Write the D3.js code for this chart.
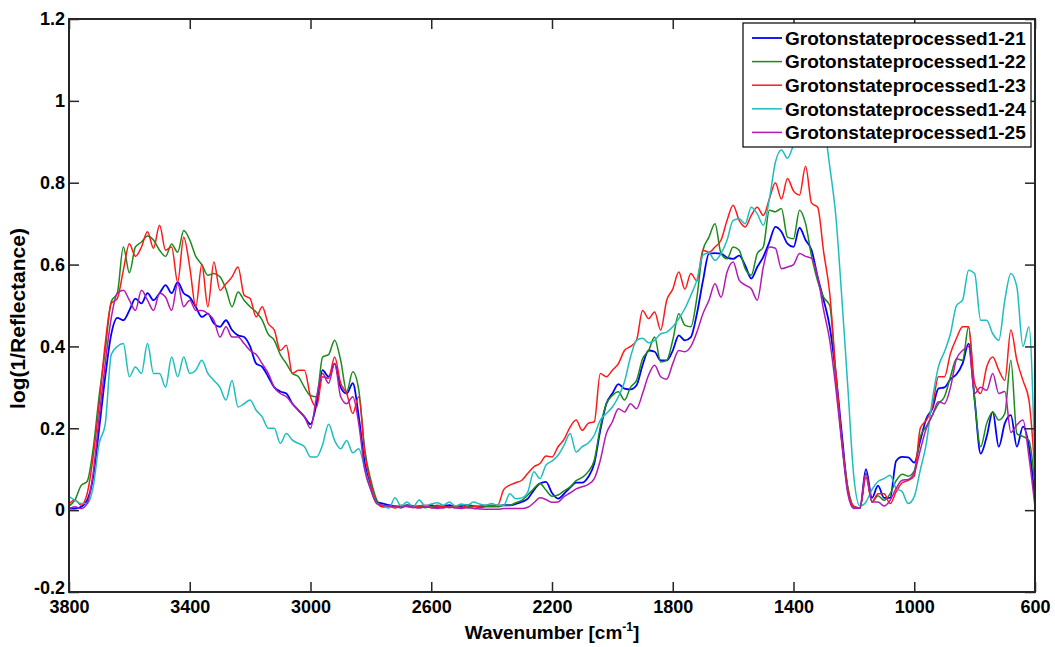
<!DOCTYPE html>
<html>
<head>
<meta charset="utf-8">
<script src="https://cdn.jsdelivr.net/npm/d3@7.9.0/dist/d3.min.js"></script>
<style>
  body { margin: 0; background: #fff; }
  svg text { font-family: "Liberation Sans", Arial, sans-serif; font-weight: bold; fill: #000; }
</style>
</head>
<body>
<svg id="chart" width="1055" height="647"></svg>
<script>
// wavenumber grid (cm-1), shared by all spectra
const wavenumbers = [
  3800,3780,3760,3740,3720,3700,3680,3660,3640,3620,
  3600,3580,3560,3540,3520,3500,3480,3460,3440,3420,
  3400,3380,3360,3340,3320,3300,3280,3260,3240,3220,
  3200,3180,3160,3140,3120,3100,3080,3060,3040,3020,
  3000,2980,2960,2940,2920,2900,2880,2860,2840,2820,
  2800,2780,2760,2740,2720,2700,2680,2660,2640,2620,
  2600,2580,2560,2540,2520,2500,2480,2460,2440,2420,
  2400,2380,2360,2340,2320,2300,2280,2260,2240,2220,
  2200,2180,2160,2140,2120,2100,2080,2060,2040,2020,
  2000,1980,1960,1940,1920,1900,1880,1860,1840,1820,
  1800,1780,1760,1740,1720,1700,1680,1660,1640,1620,
  1600,1580,1560,1540,1520,1500,1480,1460,1440,1420,
  1400,1380,1360,1340,1320,1300,1280,1260,1240,1220,
  1200,1180,1160,1140,1120,1100,1080,1060,1040,1020,
  1000,980,960,940,920,900,880,860,840,820,
  800,780,760,740,720,700,680,660,640,620,
  600
];

const s21 = [
  0.004,0.004,0.008,0.024,0.08,0.2,0.326,0.43,0.47,0.464,
  0.488,0.517,0.505,0.53,0.513,0.53,0.55,0.53,0.557,0.53,
  0.52,0.497,0.472,0.48,0.456,0.448,0.464,0.44,0.427,0.423,
  0.40,0.358,0.35,0.326,0.30,0.29,0.285,0.26,0.244,0.228,
  0.21,0.26,0.342,0.326,0.358,0.30,0.285,0.31,0.228,0.114,
  0.057,0.02,0.016,0.012,0.01,0.008,0.012,0.01,0.008,0.01,
  0.012,0.008,0.01,0.012,0.008,0.01,0.012,0.01,0.008,0.01,
  0.01,0.01,0.012,0.012,0.015,0.02,0.028,0.049,0.065,0.069,
  0.042,0.028,0.04,0.055,0.067,0.067,0.081,0.114,0.195,0.26,
  0.285,0.308,0.297,0.295,0.305,0.354,0.39,0.387,0.366,0.366,
  0.39,0.427,0.415,0.423,0.48,0.56,0.627,0.628,0.627,0.617,
  0.614,0.622,0.598,0.566,0.594,0.619,0.655,0.692,0.68,0.651,
  0.643,0.69,0.66,0.635,0.57,0.513,0.448,0.334,0.187,0.049,
  0.008,0.005,0.1,0.03,0.06,0.03,0.03,0.12,0.13,0.129,
  0.116,0.17,0.224,0.248,0.297,0.30,0.32,0.332,0.358,0.407,
  0.27,0.138,0.18,0.24,0.155,0.212,0.232,0.155,0.204,0.155,
  0.024
];

const s22 = [
  0.01,0.025,0.06,0.07,0.15,0.28,0.39,0.51,0.53,0.643,
  0.58,0.643,0.655,0.67,0.66,0.635,0.62,0.65,0.63,0.683,
  0.66,0.62,0.60,0.574,0.578,0.57,0.54,0.497,0.533,0.513,
  0.497,0.484,0.464,0.43,0.415,0.38,0.358,0.334,0.326,0.30,
  0.28,0.277,0.374,0.38,0.415,0.366,0.29,0.338,0.293,0.147,
  0.073,0.024,0.008,0.008,0.01,0.006,0.012,0.008,0.01,0.006,
  0.008,0.012,0.006,0.008,0.01,0.006,0.008,0.01,0.006,0.008,
  0.008,0.008,0.012,0.012,0.018,0.024,0.037,0.053,0.065,0.049,
  0.034,0.037,0.047,0.057,0.072,0.08,0.094,0.122,0.203,0.26,
  0.28,0.289,0.269,0.30,0.317,0.37,0.39,0.423,0.362,0.366,
  0.415,0.48,0.452,0.448,0.52,0.635,0.667,0.70,0.627,0.614,
  0.643,0.635,0.59,0.574,0.627,0.643,0.733,0.729,0.737,0.667,
  0.663,0.733,0.70,0.62,0.56,0.52,0.50,0.33,0.17,0.057,
  0.008,0.005,0.09,0.02,0.035,0.024,0.04,0.072,0.088,0.083,
  0.096,0.18,0.204,0.232,0.26,0.277,0.326,0.37,0.366,0.448,
  0.27,0.155,0.212,0.24,0.22,0.236,0.366,0.187,0.18,0.17,
  0.057
];

const s23 = [
  0.016,0.025,0.012,0.04,0.13,0.26,0.407,0.505,0.517,0.586,
  0.651,0.62,0.643,0.68,0.64,0.696,0.635,0.643,0.557,0.667,
  0.594,0.497,0.60,0.497,0.606,0.537,0.553,0.57,0.594,0.525,
  0.517,0.472,0.497,0.456,0.44,0.39,0.403,0.334,0.342,0.342,
  0.277,0.252,0.326,0.322,0.374,0.31,0.285,0.236,0.277,0.138,
  0.065,0.016,0.008,0.01,0.005,0.012,0.008,0.006,0.01,0.012,
  0.006,0.008,0.01,0.006,0.008,0.012,0.006,0.008,0.01,0.012,
  0.012,0.012,0.05,0.061,0.067,0.073,0.09,0.106,0.114,0.132,
  0.13,0.155,0.173,0.203,0.22,0.195,0.212,0.216,0.334,0.326,
  0.342,0.358,0.39,0.40,0.415,0.488,0.468,0.484,0.44,0.513,
  0.54,0.582,0.54,0.578,0.56,0.635,0.63,0.643,0.66,0.708,
  0.745,0.708,0.692,0.72,0.74,0.72,0.76,0.80,0.76,0.81,
  0.78,0.77,0.84,0.75,0.74,0.63,0.53,0.34,0.17,0.05,
  0.01,0.005,0.08,0.02,0.04,0.04,0.016,0.045,0.067,0.073,
  0.083,0.2,0.22,0.252,0.326,0.326,0.383,0.42,0.448,0.448,
  0.31,0.285,0.35,0.374,0.342,0.317,0.44,0.366,0.317,0.269,
  0.09
];

const s24 = [
  0.033,0.024,0.016,0.016,0.057,0.163,0.21,0.38,0.40,0.407,
  0.326,0.35,0.334,0.407,0.334,0.334,0.30,0.374,0.326,0.374,
  0.334,0.342,0.366,0.334,0.317,0.30,0.269,0.317,0.252,0.26,
  0.269,0.244,0.228,0.2,0.2,0.163,0.187,0.171,0.163,0.155,
  0.13,0.13,0.16,0.21,0.17,0.15,0.17,0.14,0.15,0.1,
  0.05,0.016,0.012,0.005,0.03,0.01,0.02,0.008,0.025,0.01,
  0.015,0.018,0.012,0.02,0.01,0.015,0.012,0.02,0.015,0.012,
  0.016,0.012,0.012,0.04,0.028,0.03,0.045,0.094,0.077,0.11,
  0.12,0.134,0.159,0.187,0.142,0.155,0.164,0.183,0.22,0.236,
  0.252,0.277,0.313,0.374,0.415,0.42,0.409,0.415,0.431,0.435,
  0.448,0.468,0.492,0.525,0.562,0.623,0.628,0.61,0.627,0.66,
  0.708,0.712,0.70,0.74,0.724,0.696,0.76,0.85,0.88,0.86,
  0.89,0.9,0.93,0.96,0.96,0.94,0.84,0.72,0.52,0.3,
  0.08,0.01,0.02,0.05,0.07,0.077,0.085,0.053,0.045,0.016,
  0.033,0.098,0.163,0.27,0.35,0.387,0.431,0.50,0.513,0.586,
  0.578,0.464,0.464,0.431,0.415,0.513,0.578,0.545,0.40,0.448,
  0.09
];

const s25 = [
  0.004,0.008,0.004,0.016,0.09,0.228,0.358,0.47,0.53,0.537,
  0.513,0.488,0.537,0.513,0.488,0.53,0.52,0.488,0.553,0.497,
  0.513,0.488,0.488,0.48,0.464,0.423,0.448,0.423,0.423,0.407,
  0.39,0.38,0.358,0.334,0.30,0.285,0.277,0.26,0.244,0.228,
  0.2,0.277,0.334,0.31,0.358,0.277,0.26,0.277,0.21,0.098,
  0.049,0.016,0.012,0.01,0.008,0.006,0.01,0.008,0.005,0.008,
  0.006,0.004,0.006,0.008,0.005,0.004,0.006,0.004,0.003,0.002,
  0.002,0.002,0.004,0.004,0.004,0.004,0.007,0.018,0.03,0.026,
  0.019,0.02,0.033,0.042,0.052,0.057,0.063,0.077,0.122,0.187,
  0.216,0.248,0.24,0.26,0.248,0.285,0.33,0.354,0.326,0.32,
  0.358,0.39,0.387,0.40,0.435,0.48,0.513,0.553,0.52,0.582,
  0.606,0.562,0.55,0.541,0.513,0.594,0.643,0.64,0.59,0.594,
  0.6,0.627,0.62,0.615,0.57,0.488,0.415,0.30,0.163,0.04,
  0.004,0.005,0.09,0.02,0.02,0.01,0.024,0.053,0.073,0.075,
  0.091,0.147,0.2,0.232,0.265,0.26,0.30,0.37,0.39,0.4,
  0.285,0.30,0.293,0.334,0.285,0.29,0.19,0.208,0.22,0.13,
  0.008
];

const seriesNames = [
  'Grotonstateprocessed1-21', 'Grotonstateprocessed1-22', 'Grotonstateprocessed1-23',
  'Grotonstateprocessed1-24', 'Grotonstateprocessed1-25'
];
const seriesValues = [s21, s22, s23, s24, s25];
const seriesColors = ['#0000ff', '#1a8a1a', '#ff1a1a', '#1ebebe', '#b31ab3'];
const seriesWidths = [1.8, 1.5, 1.5, 1.5, 1.5];

const xTicks = [3800, 3400, 3000, 2600, 2200, 1800, 1400, 1000, 600];
const yTicks = [-0.2, 0, 0.2, 0.4, 0.6, 0.8, 1, 1.2];

const svg = d3.select('#chart');
const plotLeft = 69, plotRight = 1035, plotTop = 19, plotBottom = 592;

const x = d3.scaleLinear().domain([3800, 600]).range([plotLeft, plotRight]);
const y = d3.scaleLinear().domain([-0.2, 1.2]).range([plotBottom, plotTop]);

svg.append('rect').attr('width', 1055).attr('height', 647).attr('fill', '#fff');

svg.append('defs').append('clipPath').attr('id', 'plot-clip')
  .append('rect')
  .attr('x', plotLeft).attr('y', plotTop)
  .attr('width', plotRight - plotLeft).attr('height', plotBottom - plotTop);

// Lines
const line = d3.line()
  .x((d, i) => x(wavenumbers[i]))
  .y((d) => y(d))
  .curve(d3.curveMonotoneX);

const lines = svg.append('g').attr('clip-path', 'url(#plot-clip)');
seriesValues.forEach((vals, k) => {
  lines.append('path')
    .attr('d', line(vals))
    .attr('fill', 'none')
    .attr('stroke', seriesColors[k])
    .attr('stroke-width', seriesWidths[k])
    .attr('stroke-linejoin', 'round');
});

// Axes (ticks pointing inward, box around plot)
const axisColor = '#262626';
const fmt = (d) => String(+d.toFixed(1));

const gx = svg.append('g').attr('transform', `translate(0,${plotBottom})`)
  .call(d3.axisBottom(x).tickValues(xTicks).tickSizeInner(-10).tickSizeOuter(0).tickPadding(8).tickFormat(d3.format('d')));
const gxTop = svg.append('g').attr('transform', `translate(0,${plotTop})`)
  .call(d3.axisTop(x).tickValues(xTicks).tickSizeInner(-10).tickSizeOuter(0).tickFormat(''));
const gy = svg.append('g').attr('transform', `translate(${plotLeft},0)`)
  .call(d3.axisLeft(y).tickValues(yTicks).tickSizeInner(-10).tickSizeOuter(0).tickPadding(4).tickFormat(fmt));
const gyRight = svg.append('g').attr('transform', `translate(${plotRight},0)`)
  .call(d3.axisRight(y).tickValues(yTicks).tickSizeInner(-10).tickSizeOuter(0).tickFormat(''));

[gx, gxTop, gy, gyRight].forEach((g) => {
  g.select('.domain').remove();
  g.selectAll('line').attr('stroke', axisColor).attr('stroke-width', 1.5);
  g.selectAll('text').attr('font-size', 18).attr('fill', '#000')
    .attr('font-family', '"Liberation Sans", Arial, sans-serif').attr('font-weight', 'bold');
});

// the bottom y label sits just above the first x label, as in the original
gy.selectAll('.tick').filter((d) => d === -0.2).select('text').attr('y', -4);

svg.append('rect')
  .attr('x', plotLeft).attr('y', plotTop)
  .attr('width', plotRight - plotLeft).attr('height', plotBottom - plotTop)
  .attr('fill', 'none').attr('stroke', axisColor).attr('stroke-width', 2);

// Axis titles
const xTitle = svg.append('text')
  .attr('x', (plotLeft + plotRight) / 2).attr('y', 639)
  .attr('text-anchor', 'middle').attr('font-size', 19);
xTitle.append('tspan').text('Wavenumber [cm');
xTitle.append('tspan').attr('dy', -8).attr('font-size', 12).text('-1');
xTitle.append('tspan').attr('dy', 8).text(']');

svg.append('text')
  .attr('transform', `translate(25,${(plotTop + plotBottom) / 2 + 13}) rotate(-90)`)
  .attr('text-anchor', 'middle').attr('font-size', 21)
  .text('log(1/Reflectance)');

// Legend
const legend = svg.append('g');
legend.append('rect')
  .attr('x', 743).attr('y', 23).attr('width', 288).attr('height', 124)
  .attr('fill', '#fff').attr('stroke', '#000').attr('stroke-width', 1.2);

seriesNames.forEach((name, k) => {
  const ly = 38 + k * 23.6;
  legend.append('line')
    .attr('x1', 752).attr('x2', 782).attr('y1', ly).attr('y2', ly)
    .attr('stroke', seriesColors[k]).attr('stroke-width', seriesWidths[k]);
  legend.append('text')
    .attr('x', 785).attr('y', ly).attr('dy', '0.36em')
    .attr('font-size', 19)
    .text(name);
});
</script>
</body>
</html>
